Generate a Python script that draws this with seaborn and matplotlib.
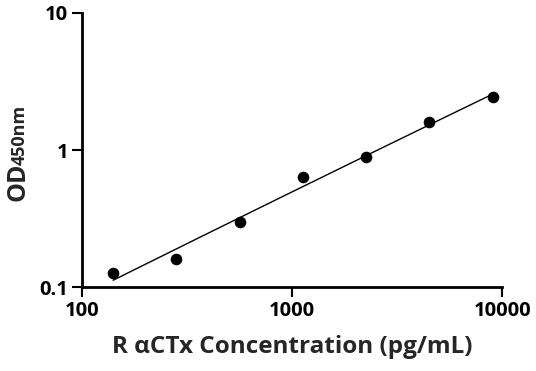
import numpy as np
import pandas as pd
import seaborn as sns
import matplotlib.pyplot as plt

# standard curve data
conc = [140.6, 281.25, 562.5, 1125, 2250, 4500, 9000]
od450 = [0.126, 0.160, 0.298, 0.635, 0.889, 1.60, 2.44]
x_ticks = [100, 1000, 10000]
x_tick_labels = ["100", "1000", "10000"]
y_ticks = [0.1, 1, 10]
y_tick_labels = ["0.1", "1", "10"]

sns.set_style("ticks")
plt.rcParams['font.family'] = ['Open Sans', 'DejaVu Sans']
plt.rcParams['font.weight'] = 'bold'

df = pd.DataFrame({"conc": conc, "od": od450})

# fitted curve: quadratic in log-log space
coef = np.polyfit(np.log10(df["conc"]), np.log10(df["od"]), 2)
xs = np.logspace(np.log10(min(conc)), np.log10(max(conc)), 200)
fit = pd.DataFrame({"conc": xs, "od": 10 ** np.polyval(coef, np.log10(xs))})

fig = plt.figure(figsize=(5.36, 3.71), dpi=100)
ax = fig.add_axes([0.153, 0.226, 0.784, 0.739])

sns.lineplot(data=fit, x="conc", y="od", ax=ax, color="black", linewidth=1.0)
sns.scatterplot(data=df, x="conc", y="od", ax=ax, color="black", s=70,
                edgecolor="black", linewidth=0, zorder=3)

ax.set_xscale("log")
ax.set_yscale("log")
ax.set_xlim(100, 10000)
ax.set_ylim(0.1, 10)
ax.set_xticks(x_ticks)
ax.set_xticklabels(x_tick_labels)
ax.set_yticks(y_ticks)
ax.set_yticklabels(y_tick_labels)
ax.minorticks_off()
ax.tick_params(axis="both", which="major", length=7, width=1.5, labelsize=14.5,
               pad=3, color="black", labelcolor="black")
for lab in ax.get_xticklabels() + ax.get_yticklabels():
    lab.set_fontweight("bold")

for side in ["left", "bottom"]:
    ax.spines[side].set_linewidth(2)
    ax.spines[side].set_color("black")
sns.despine(ax=ax)

ax.set_xlabel("R αCTx Concentration (pg/mL)", fontsize=17.5, fontweight="bold", labelpad=10)
ax.set_ylabel("")

# y label: "OD" with smaller "450nm" on same baseline
fig.text(0.046, 0.458, "OD", rotation=90, rotation_mode="anchor",
         ha="left", va="baseline", fontsize=18, fontweight="bold")
fig.text(0.046, 0.556, "450nm", rotation=90, rotation_mode="anchor",
         ha="left", va="baseline", fontsize=13, fontweight="bold")

plt.savefig("out.png", dpi=100)
